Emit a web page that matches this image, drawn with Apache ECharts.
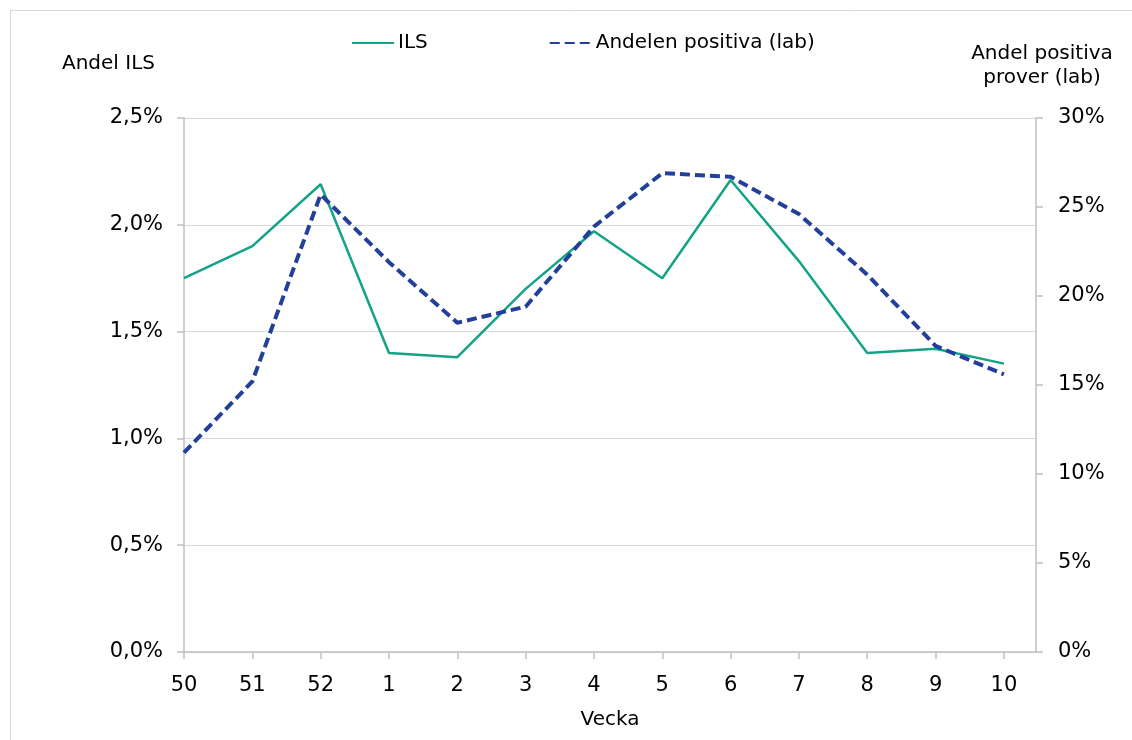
<!DOCTYPE html>
<html>
<head>
<meta charset="utf-8">
<script src="https://cdn.jsdelivr.net/npm/echarts@6/dist/echarts.min.js"></script>
<style>
html,body{margin:0;padding:0;background:#fff;}
#chart{width:1132px;height:740px;}
</style>
</head>
<body>
<div id="chart"></div>
<script>
const weeks = ['50','51','52','1','2','3','4','5','6','7','8','9','10'];
const ilsShare = [1.75, 1.90, 2.19, 1.40, 1.38, 1.70, 1.97, 1.75, 2.21, 1.83, 1.40, 1.42, 1.35];
const labPositive = [11.2, 15.2, 25.7, 21.9, 18.5, 19.4, 23.9, 26.9, 26.7, 24.6, 21.2, 17.2, 15.6];
const leftTicks = [0, 0.5, 1.0, 1.5, 2.0, 2.5];
const rightTicks = [0, 5, 10, 15, 20, 25, 30];

const FONT = 'DejaVu Sans';
const idx = weeks.map((w, i) => i);

const chart = echarts.init(document.getElementById('chart'), null, {renderer: 'canvas'});
chart.setOption({
  animation: false,
  backgroundColor: '#fff',
  textStyle: {fontFamily: FONT, color: '#000'},
  grid: {left: 184, right: 96, top: 118, bottom: 88, containLabel: false},
  legend: {
    left: 351, top: 33, padding: 0,
    itemWidth: 42, itemHeight: 20, itemGap: 121,
    itemStyle: {opacity: 0},
    textStyle: {fontFamily: FONT, fontSize: 20, color: '#000', padding: [0, 0, 0, -1]},
    data: ['ILS', 'Andelen positiva (lab)']
  },
  graphic: [
    {type: 'rect', left: 8, top: 8, silent: true, z: -1,
     shape: {width: 1200, height: 800},
     style: {fill: 'none', stroke: '#d9d9d9', lineWidth: 1}},
    {type: 'text', left: 62, top: 54,
     style: {text: 'Andel ILS', font: '20px "DejaVu Sans"', fill: '#000'}},
    {type: 'text', x: 1042, y: 42,
     style: {text: 'Andel positiva\nprover (lab)', font: '20px "DejaVu Sans"', fill: '#000', align: 'center', verticalAlign: 'top', lineHeight: 24}}
  ],
  xAxis: {
    type: 'value',
    min: 0, max: weeks.length - 1 + 0.47,
    name: 'Vecka', nameLocation: 'middle', nameGap: 58,
    nameTextStyle: {fontFamily: FONT, fontSize: 20, color: '#000'},
    axisLine: {show: true, lineStyle: {color: '#bfbfbf', width: 1.5}},
    axisTick: {show: true, length: 7, customValues: idx, lineStyle: {color: '#bfbfbf', width: 1.5}},
    axisLabel: {customValues: idx, margin: 23, fontFamily: FONT, fontSize: 21, color: '#000',
      formatter: v => weeks[Math.round(v)]},
    splitLine: {show: false}
  },
  yAxis: [
    {
      type: 'value', min: 0, max: 2.5, interval: 0.5, position: 'left',
      axisLine: {show: true, lineStyle: {color: '#bfbfbf', width: 1.5}},
      axisTick: {show: true, length: 7, lineStyle: {color: '#bfbfbf', width: 1.5}},
      axisLabel: {margin: 21, fontFamily: FONT, fontSize: 21, color: '#000',
        formatter: v => v.toFixed(1).replace('.', ',') + '%'},
      splitLine: {show: true, lineStyle: {color: '#d9d9d9', width: 1}}
    },
    {
      type: 'value', min: 0, max: 30, interval: 5, position: 'right',
      axisLine: {show: true, lineStyle: {color: '#bfbfbf', width: 1.5}},
      axisTick: {show: true, length: 7, lineStyle: {color: '#bfbfbf', width: 1.5}},
      axisLabel: {margin: 22, fontFamily: FONT, fontSize: 21, color: '#000',
        formatter: v => v + '%'},
      splitLine: {show: false}
    }
  ],
  series: [
    {
      name: 'ILS', type: 'line', yAxisIndex: 0,
      showSymbol: false, symbol: 'none',
      lineStyle: {color: '#14a386', width: 2.5},
      itemStyle: {color: '#14a386'},
      data: ilsShare.map((v, i) => [i, v]), z: 3
    },
    {
      name: 'Andelen positiva (lab)', type: 'line', yAxisIndex: 1,
      showSymbol: false, symbol: 'none',
      lineStyle: {color: '#22409a', width: 4, type: [10, 5]},
      itemStyle: {color: '#22409a'},
      data: labPositive.map((v, i) => [i, v]), z: 4
    }
  ]
});
</script>
</body>
</html>
